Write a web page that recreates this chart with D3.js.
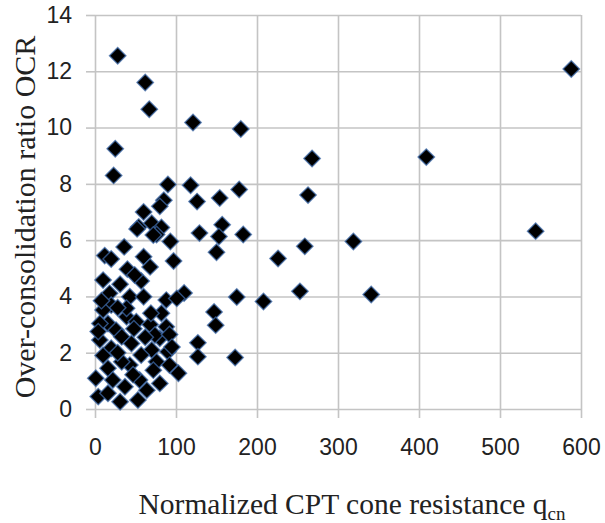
<!DOCTYPE html>
<html>
<head>
<meta charset="utf-8">
<script src="https://cdn.jsdelivr.net/npm/d3@7"></script>
<style>
  body { margin: 0; background: #fff; }
</style>
</head>
<body>
<div class="canvas"></div>
<script>
// qcn (x) and OCR (y) for each point
const qcn = [
  // scattered points
  28, 62, 67, 121, 180, 25, 268, 409, 588, 23,
  90, 118, 178, 154, 126, 263, 129, 157, 153, 183,
  150, 226, 259, 319, 544, 253, 341, 208, 175, 110,
  147, 149, 127, 127, 173,
  // upper part of the cluster
  85, 80, 60, 54, 70, 82, 76, 93, 36, 52,
  72, 12,
  // dense cluster
  20, 60, 97, 40, 68, 10, 31, 57, 18, 43,
  60, 88, 101, 20, 10, 39, 51, 68, 88, 16,
  26, 6, 33, 45, 70, 90, 20, 57, 43, 16,
  33, 76, 92, 103, 1, 22, 55, 80, 37, 64,
  4, 31, 53, 16, 10, 80, 82, 69, 74, 72,
  39, 49, 92, 95, 6, 4, 8, 28, 48, 28,
  62, 47
];
const ocr = [
  12.55, 11.6, 10.65, 10.18, 9.95, 9.25, 8.9, 8.95, 12.08, 8.3,
  7.98, 7.95, 7.8, 7.5, 7.37, 7.6, 6.25, 6.55, 6.13, 6.2,
  5.57, 5.35, 5.78, 5.95, 6.32, 4.18, 4.07, 3.82, 3.98, 4.12,
  3.45, 2.98, 2.35, 1.86, 1.83,
  7.42, 7.2, 7.0, 6.47, 6.6, 6.45, 6.2, 5.95, 5.76, 6.4,
  6.18, 5.45,
  5.33, 5.41, 5.26, 4.97, 5.05, 4.58, 4.43, 4.55, 4.11, 3.99,
  3.99, 3.87, 3.93, 3.69, 3.52, 3.28, 3.1, 3.0, 2.92, 3.04,
  2.8, 2.45, 2.57, 2.33, 2.1, 2.03, 2.16, 1.92, 1.56, 1.45,
  1.68, 1.68, 1.56, 1.27, 1.09, 1.03, 1.03, 0.91, 0.79, 0.67,
  0.44, 0.26, 0.32, 0.56, 1.9, 2.51, 3.4, 3.4, 2.63, 1.38,
  3.58, 4.76, 2.65, 2.2, 3.04, 2.75, 3.85, 3.6, 2.85, 2.0,
  2.55, 1.22
];
const xTicks = [0, 100, 200, 300, 400, 500, 600];
const yTicks = [0, 2, 4, 6, 8, 10, 12, 14];

const points = qcn.map((q, i) => ({ q, ocr: ocr[i] }));

const width = 605;
const height = 523;
const margin = { top: 15, right: 24, bottom: 114, left: 95 };
const plotW = width - margin.left - margin.right;
const plotH = height - margin.top - margin.bottom;

const svg = d3
  .select('.canvas')
  .append('svg')
  .attr('width', width)
  .attr('height', height);

const graph = svg
  .append('g')
  .attr('transform', `translate(${margin.left}, ${margin.top})`);

const x = d3.scaleLinear().domain([0, 600]).range([0, plotW]);
const y = d3.scaleLinear().domain([0, 14]).range([plotH, 0]);

const gridColor = '#c4c4c4';

// grid lines
graph
  .append('g')
  .attr('transform', `translate(0, ${plotH})`)
  .call(d3.axisBottom(x).tickValues(xTicks).tickSize(-plotH).tickFormat(''))
  .call(g => g.select('.domain').remove());

graph
  .append('g')
  .call(d3.axisLeft(y).tickValues(yTicks).tickSize(-plotW).tickFormat(''))
  .call(g => g.select('.domain').remove());

// axes with outward ticks and labels
graph
  .append('g')
  .attr('transform', `translate(0, ${plotH})`)
  .call(d3.axisBottom(x).tickValues(xTicks).tickSize(9).tickPadding(21))
  .call(g => g.select('.domain').remove());

graph
  .append('g')
  .call(d3.axisLeft(y).tickValues(yTicks).tickSize(9).tickPadding(14))
  .call(g => g.select('.domain').remove());

svg.selectAll('.tick line').attr('stroke', gridColor).attr('stroke-width', 1.6);
svg
  .selectAll('.tick text')
  .attr('fill', '#222')
  .style('font-family', '"Liberation Sans", Arial, sans-serif')
  .style('font-size', '23px');

// markers
graph
  .append('g')
  .selectAll('path')
  .data(points)
  .enter()
  .append('path')
  .attr('d', d3.symbol().type(d3.symbolSquare).size(135))
  .attr('transform', d => `translate(${x(d.q)}, ${y(d.ocr)}) rotate(45)`)
  .attr('fill', '#000')
  .attr('stroke', '#3d6aa8')
  .attr('stroke-width', 1.4)
  .attr('stroke-opacity', 0.75);

// axis titles
const xTitle = svg
  .append('text')
  .attr('x', 352)
  .attr('y', 514)
  .attr('text-anchor', 'middle')
  .attr('fill', '#222')
  .style('font-family', '"Liberation Serif", "Times New Roman", serif')
  .style('font-size', '29.5px');
xTitle.append('tspan').text('Normalized CPT cone resistance q');
xTitle.append('tspan').attr('dy', 6).style('font-size', '19px').text('cn');

svg
  .append('text')
  .attr('transform', `translate(35, ${margin.top + plotH / 2 + 5}) rotate(-90)`)
  .attr('text-anchor', 'middle')
  .attr('fill', '#222')
  .style('font-family', '"Liberation Serif", "Times New Roman", serif')
  .style('font-size', '30px')
  .text('Over-consolidation ratio OCR');
</script>
</body>
</html>
